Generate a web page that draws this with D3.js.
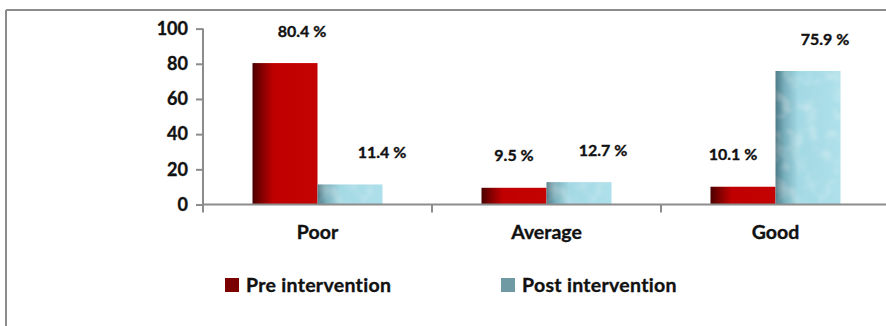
<!DOCTYPE html>
<html>
<head>
<meta charset="utf-8">
<script src="https://cdn.jsdelivr.net/npm/d3@7/dist/d3.min.js"></script>
<style>
  html, body { margin: 0; padding: 0; background: #fff; }
  svg { display: block; font-family: Lato, "Open Sans", sans-serif; font-weight: bold; }
  svg text { stroke: #111; stroke-width: 0.35px; }
</style>
</head>
<body>
<svg id="chart" width="886" height="326"></svg>
<script>
// Knowledge level before and after the intervention (%)
const categories = ["Poor", "Average", "Good"];
const seriesNames = ["Pre intervention", "Post intervention"];
const preValues = [80.4, 9.5, 10.1];
const postValues = [11.4, 12.7, 75.9];
const yTicks = [0, 20, 40, 60, 80, 100];

const svg = d3.select("#chart");
const W = 886, H = 326;

// frame lines (top and left)
svg.append("line").attr("x1", 6).attr("x2", W).attr("y1", 10).attr("y2", 10)
  .attr("stroke", "#8c8c8c").attr("stroke-width", 2);
svg.append("line").attr("x1", 6).attr("x2", 6).attr("y1", 10).attr("y2", H)
  .attr("stroke", "#8c8c8c").attr("stroke-width", 2);

const defs = svg.append("defs");

// red fill with dark left edge
const gPre = defs.append("linearGradient").attr("id", "gradPre")
  .attr("x1", "0%").attr("x2", "100%").attr("y1", "0%").attr("y2", "0%");
gPre.append("stop").attr("offset", "0%").attr("stop-color", "#4a0000");
gPre.append("stop").attr("offset", "12%").attr("stop-color", "#7a0000");
gPre.append("stop").attr("offset", "32%").attr("stop-color", "#c00000");
gPre.append("stop").attr("offset", "100%").attr("stop-color", "#c40202");

// pale blue fill with shaded left edge
const gPost = defs.append("linearGradient").attr("id", "gradPost")
  .attr("x1", "0%").attr("x2", "100%").attr("y1", "0%").attr("y2", "0%");
gPost.append("stop").attr("offset", "0%").attr("stop-color", "#4a7a86");
gPost.append("stop").attr("offset", "14%").attr("stop-color", "#79b0bd");
gPost.append("stop").attr("offset", "35%").attr("stop-color", "#a3d9e4");
gPost.append("stop").attr("offset", "100%").attr("stop-color", "#ade0ea");

// watery texture over the blue bars
const tex = defs.append("filter").attr("id", "water")
  .attr("x", 0).attr("y", 0).attr("width", 1).attr("height", 1);
tex.append("feTurbulence").attr("type", "fractalNoise").attr("baseFrequency", "0.07")
  .attr("numOctaves", 2).attr("seed", 4).attr("result", "noise");
tex.append("feColorMatrix").attr("in", "noise").attr("type", "matrix")
  .attr("values", "0 0 0 0 1  0 0 0 0 1  0 0 0 0 1  1.6 0 0 0 -0.75").attr("result", "spots");
tex.append("feComposite").attr("in", "spots").attr("in2", "SourceGraphic").attr("operator", "in").attr("result", "spotsIn");
tex.append("feGaussianBlur").attr("in", "spotsIn").attr("stdDeviation", 0.8).attr("result", "soft");
tex.append("feComponentTransfer").attr("in", "soft").attr("result", "faint")
  .append("feFuncA").attr("type", "linear").attr("slope", 0.4);
const merge = tex.append("feMerge");
merge.append("feMergeNode").attr("in", "SourceGraphic");
merge.append("feMergeNode").attr("in", "faint");

// scales
const x0 = d3.scaleBand().domain(categories).range([203, 890]).paddingInner(0).paddingOuter(0);
const x1 = d3.scaleBand().domain(seriesNames).range([-65, 65]).padding(0);
const y = d3.scaleLinear().domain([0, 100]).range([204.5, 28.6]);

const rows = categories.map((c, i) => ({
  cat: c,
  vals: [
    { s: seriesNames[0], v: preValues[i] },
    { s: seriesNames[1], v: postValues[i] }
  ]
}));

// bars
const groups = svg.selectAll("g.cat").data(rows).join("g")
  .attr("class", "cat")
  .attr("transform", d => `translate(${x0(d.cat) + x0.bandwidth() / 2},0)`);

groups.selectAll("rect").data(d => d.vals).join("rect")
  .attr("x", d => x1(d.s))
  .attr("width", x1.bandwidth())
  .attr("y", d => y(d.v))
  .attr("height", d => y(0) - y(d.v))
  .attr("fill", (d, i) => i === 0 ? "url(#gradPre)" : "url(#gradPost)")
  .attr("filter", (d, i) => i === 0 ? null : "url(#water)");

// value labels, nudged sideways as laid out on the slide
const labelNudge = [[17, 32], [0, 24], [-10, 17]];
groups.each(function (d, ci) {
  d3.select(this).selectAll("text.val").data(d.vals).join("text")
    .attr("class", "val")
    .attr("x", (v, si) => x1(v.s) + x1.bandwidth() / 2 + labelNudge[ci][si])
    .attr("y", v => y(v.v) - 32)
    .attr("dy", "0.35em")
    .attr("text-anchor", "middle")
    .attr("font-size", 16)
    .attr("fill", "#111")
    .text(v => v.v.toFixed(1) + " %");
});

// y axis
const yAxis = d3.axisLeft(y).tickValues(yTicks).tickSize(7).tickPadding(8).tickSizeOuter(0);
const gy = svg.append("g").attr("transform", "translate(203,0)").call(yAxis);
gy.select(".domain").attr("stroke", "#8c8c8c").attr("stroke-width", 2)
  .attr("d", `M0,${y(100)}V${y(0) + 8}`);
gy.selectAll(".tick line").attr("stroke", "#8c8c8c").attr("stroke-width", 2);
gy.selectAll(".tick text").attr("font-size", 18).attr("font-weight", "bold")
  .attr("font-family", "Lato, 'Open Sans', sans-serif").attr("fill", "#111");

// x axis with dividers between categories
const xAxis = d3.axisBottom(x0).tickSize(0).tickPadding(21).tickSizeOuter(0);
const gx = svg.append("g").attr("transform", `translate(0,${y(0)})`).call(xAxis);
gx.select(".domain").attr("stroke", "#8c8c8c").attr("stroke-width", 2)
  .attr("d", `M203,0H${W}`);
gx.selectAll(".tick text").attr("font-size", 19.5).attr("font-weight", "bold")
  .attr("font-family", "Lato, 'Open Sans', sans-serif").attr("fill", "#111");
gx.selectAll("line.divider").data(categories.slice(1)).join("line")
  .attr("class", "divider")
  .attr("x1", d => x0(d)).attr("x2", d => x0(d))
  .attr("y1", 0).attr("y2", 8)
  .attr("stroke", "#8c8c8c").attr("stroke-width", 2);

// legend
const legendX = [225, 501];
const legend = svg.selectAll("g.legend").data(seriesNames).join("g")
  .attr("class", "legend")
  .attr("transform", (d, i) => `translate(${legendX[i]},278)`);
legend.append("rect").attr("width", 14).attr("height", 14)
  .attr("fill", (d, i) => i === 0 ? "#7a0000" : "#6f9aa3");
legend.append("text").attr("x", 21).attr("y", 7).attr("dy", "0.35em")
  .attr("font-size", 19.5).attr("letter-spacing", 0.3).attr("fill", "#111").text(d => d);
</script>
</body>
</html>
